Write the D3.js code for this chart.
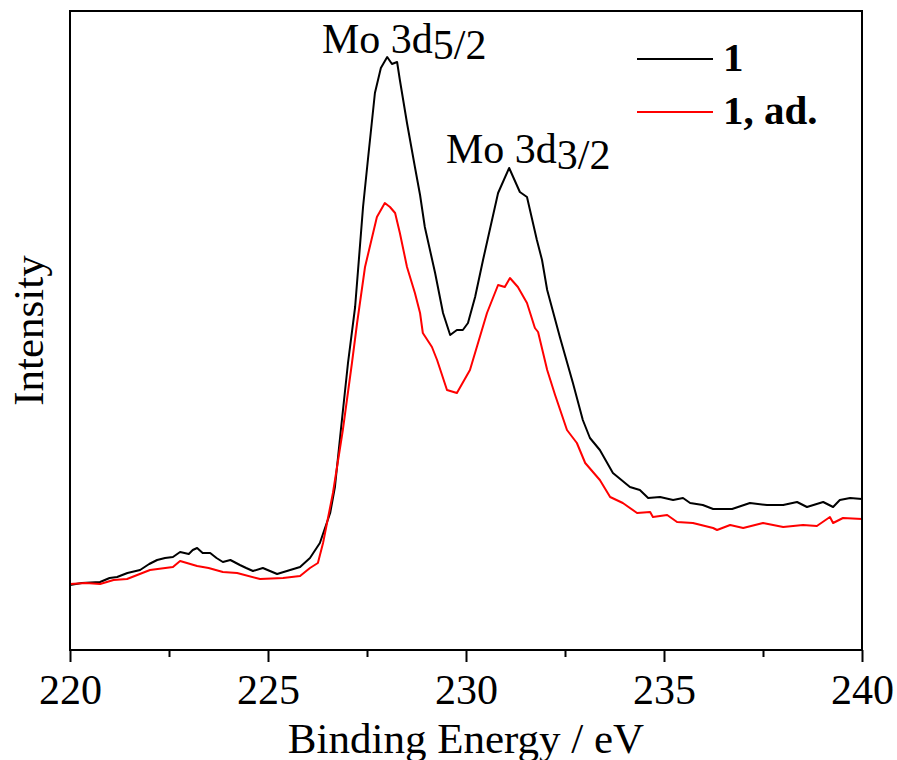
<!DOCTYPE html>
<html>
<head>
<meta charset="utf-8">
<script src="https://cdn.jsdelivr.net/npm/d3@7"></script>
<style>
  html, body { margin: 0; padding: 0; background: #fff; }
  svg { display: block; }
  text { font-family: "Liberation Serif", "Times New Roman", serif; fill: #000; }
</style>
</head>
<body>
<svg id="chart" width="897" height="760"></svg>
<script>
// Mo 3d XPS spectra: binding energy (eV) and intensity (a.u.)
const energyPristine = [220.00, 220.30, 220.76, 221.00, 221.19, 221.45, 221.77, 222.00, 222.20, 222.40,
  222.60, 222.78, 223.00, 223.10, 223.21, 223.35, 223.54, 223.70, 223.86, 224.05,
  224.29, 224.45, 224.62, 224.87, 225.23, 225.56, 225.81, 226.06, 226.31, 226.57, 226.69, 226.84, 227.02,
  227.20, 227.40, 227.53, 227.70, 227.85, 228.01, 228.13, 228.26, 228.33, 228.51, 228.71, 228.84,
  228.96, 229.22, 229.42, 229.60, 229.77, 229.92, 230.05, 230.23, 230.43, 230.81, 231.09, 231.36,
  231.54, 231.79, 231.92, 232.05, 232.37, 232.70, 232.95, 233.13, 233.38, 233.71, 234.14, 234.39,
  234.60, 234.90, 235.23, 235.48, 235.66, 235.98, 236.24, 236.72, 237.17, 237.60, 238.01, 238.36,
  238.61, 239.02, 239.27, 239.44, 239.70, 240.00];
const intensityPristine = [65, 67, 68, 72, 73, 77, 80, 86, 90, 92,
  93, 98, 96, 100, 102, 97, 97, 92, 88, 90,
  85, 82, 79, 82, 76, 80, 83, 92, 107, 137, 163, 220, 287,
  343, 443, 493, 557, 582, 593, 586, 588, 570, 527, 483, 455,
  423, 377, 337, 315, 320, 320, 327, 353, 390, 457, 482, 458,
  453, 410, 390, 360, 313, 267, 230, 212, 200, 177, 163, 160,
  152, 153, 150, 152, 147, 145, 141, 141, 147, 145, 145, 148,
  143, 148, 143, 150, 152, 151];

const energyAdsorbed = [220.00, 220.40, 220.76, 221.10, 221.44, 222.02, 222.60, 222.78, 223.21, 223.50,
  223.86, 224.22, 224.80, 225.38, 225.81, 226.06, 226.26, 226.39, 226.64, 226.89, 227.12, 227.25,
  227.45, 227.75, 227.95, 228.08, 228.21, 228.33, 228.51, 228.71, 228.84, 228.91, 229.14, 229.27,
  229.52, 229.77, 230.10, 230.53, 230.81, 230.98, 231.11, 231.31, 231.54, 231.74, 231.82, 232.05,
  232.25, 232.55, 232.80, 233.01, 233.38, 233.64, 233.96, 234.32, 234.65, 234.72, 235.08, 235.33,
  235.73, 236.24, 236.34, 236.67, 237.00, 237.50, 238.01, 238.51, 238.86, 239.19, 239.27, 239.52, 240.00];
const intensityAdsorbed = [66, 67, 66, 70, 71, 80, 83, 89, 84, 82,
  78, 77, 71, 72, 74, 82, 87, 107, 157, 220, 287, 327,
  383, 433, 447, 443, 437, 417, 383, 357, 337, 317, 303, 290,
  260, 257, 280, 337, 365, 363, 372, 363, 347, 322, 318, 280,
  255, 220, 207, 187, 170, 153, 147, 137, 138, 133, 135, 128,
  127, 122, 120, 125, 122, 127, 123, 125, 124, 133, 127, 132, 131];

const xTicks = [220, 225, 230, 235, 240];
const xMinorTicks = [222.5, 227.5, 232.5, 237.5];
const seriesNames = ["1", "1, ad."];
const seriesColors = ["#000000", "#ff0000"];

const svg = d3.select("#chart");
const plot = { left: 70, right: 862, top: 11, bottom: 650 };

const x = d3.scaleLinear().domain([220, 240]).range([plot.left, plot.right]);
const y = d3.scaleLinear().domain([0, 639]).range([plot.bottom, plot.top]);

// bottom axis: major ticks with labels, minor ticks in between
const axisMajor = d3.axisBottom(x).tickValues(xTicks).tickSize(12).tickPadding(12)
  .tickFormat(d3.format("d"));
const gx = svg.append("g").attr("transform", `translate(0,${plot.bottom})`).call(axisMajor);
gx.select(".domain").remove();
gx.selectAll(".tick line").attr("stroke", "#000").attr("stroke-width", 2);
gx.selectAll(".tick text")
  .attr("font-family", "Liberation Serif, serif").attr("font-size", 42).attr("fill", "#000");

const axisMinor = d3.axisBottom(x).tickValues(xMinorTicks).tickSize(7).tickFormat("");
const gxm = svg.append("g").attr("transform", `translate(0,${plot.bottom})`).call(axisMinor);
gxm.select(".domain").remove();
gxm.selectAll(".tick line").attr("stroke", "#000").attr("stroke-width", 2);

// spectra
const line = d3.line().x(d => x(d[0])).y(d => y(d[1]));
const seriesData = [
  d3.zip(energyPristine, intensityPristine),
  d3.zip(energyAdsorbed, intensityAdsorbed)
];
seriesData.forEach((pts, i) => {
  svg.append("path").datum(pts)
    .attr("d", line)
    .attr("fill", "none")
    .attr("stroke", seriesColors[i])
    .attr("stroke-width", 2)
    .attr("stroke-linejoin", "round");
});

// plot frame
svg.append("rect")
  .attr("x", plot.left).attr("y", plot.top)
  .attr("width", plot.right - plot.left).attr("height", plot.bottom - plot.top)
  .attr("fill", "none").attr("stroke", "#000").attr("stroke-width", 2);

// axis titles
svg.append("text")
  .attr("x", (plot.left + plot.right) / 2).attr("y", 753)
  .attr("text-anchor", "middle").attr("font-size", 43)
  .text("Binding Energy / eV");
svg.append("text")
  .attr("transform", `translate(43,${(plot.top + plot.bottom) / 2}) rotate(-90)`)
  .attr("text-anchor", "middle").attr("font-size", 43)
  .text("Intensity");

// peak labels
function peakLabel(px, py, main, sub) {
  const t = svg.append("text").attr("x", px).attr("y", py).attr("font-size", 42);
  t.append("tspan").text(main);
  t.append("tspan").attr("dy", 6).text(sub);
}
peakLabel(322, 53, "Mo 3d", "5/2");
peakLabel(446, 163, "Mo 3d", "3/2");

// legend
const legendRows = [59, 112];
seriesNames.forEach((name, i) => {
  svg.append("line")
    .attr("x1", 637).attr("x2", 713)
    .attr("y1", legendRows[i]).attr("y2", legendRows[i])
    .attr("stroke", seriesColors[i]).attr("stroke-width", 2);
  svg.append("text")
    .attr("x", 723).attr("y", legendRows[i] + 12)
    .attr("font-size", 41).attr("font-weight", "bold")
    .text(name);
});
</script>
</body>
</html>
